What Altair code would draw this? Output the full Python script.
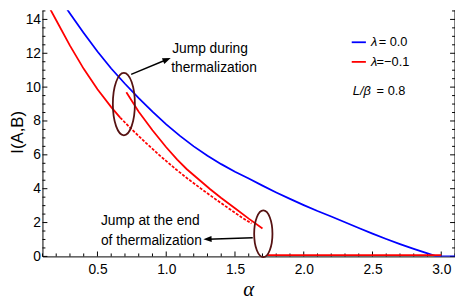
import altair as alt
import pandas as pd
import numpy as np

# ---------------- data ----------------
blue_alpha = [0.22, 0.3, 0.4, 0.5, 0.6, 0.7, 0.8, 0.9, 1.0, 1.1, 1.2, 1.3, 1.4, 1.5, 1.6,
              1.7, 1.8, 1.9, 2.0, 2.1, 2.2, 2.3, 2.4, 2.5, 2.6, 2.7, 2.8, 2.9, 2.96, 3.0, 3.1]
blue_I = [15.3, 14.35, 13.2, 12.1, 11.1, 10.2, 9.35, 8.55, 7.8, 7.12, 6.5, 5.95, 5.45, 5.0, 4.6,
          4.18, 3.78, 3.4, 3.03, 2.68, 2.36, 2.02, 1.68, 1.35, 1.03, 0.73, 0.45, 0.18, 0.02, 0.0, 0.0]

red1_alpha = [0.12, 0.2, 0.3, 0.4, 0.5, 0.6, 0.665]
red1_I = [15.15, 13.95, 12.45, 11.08, 9.87, 8.82, 8.2]

red_dash_alpha = [0.665, 0.75, 0.85, 0.95, 1.07, 1.15, 1.25, 1.35, 1.45, 1.55, 1.62]
red_dash_I = [8.2, 7.5, 6.72, 5.98, 5.15, 4.63, 4.02, 3.43, 2.86, 2.3, 1.95]

red2_alpha = [0.71, 0.8, 0.9, 1.0, 1.08, 1.15, 1.22, 1.32, 1.4, 1.5, 1.6, 1.7]
red2_I = [9.7, 8.55, 7.45, 6.45, 5.72, 5.15, 4.66, 3.97, 3.45, 2.85, 2.23, 1.65]

red3_alpha = [1.735, 3.0]
red3_I = [0.07, 0.07]

x_major = [0.5, 1.0, 1.5, 2.0, 2.5, 3.0]
x_minor = [round(v, 1) for v in np.arange(0.1, 3.11, 0.1) if round(v, 1) not in x_major]
y_major = [0, 2, 4, 6, 8, 10, 12, 14]
y_minor = [v for v in np.arange(0.5, 14.51, 0.5) if v not in y_major]

X_DOM = [0.1, 3.1]
Y_DOM = [0, 14.54]
W, H = 419, 250

FONT = "Liberation Sans"
BROWN = "#561212"

xs = alt.Scale(domain=X_DOM, nice=False, zero=False)
ys = alt.Scale(domain=Y_DOM, nice=False, zero=False)

X_AXIS = alt.Axis(values=x_major, format=".1f", ticks=False, tickSize=0, grid=False,
                  labelFont=FONT, labelFontSize=14, labelColor="black", labelPadding=6,
                  domainColor="black", domainWidth=1, title=None)
Y_AXIS = alt.Axis(values=y_major, format="d", ticks=False, tickSize=0, grid=False,
                  labelFont=FONT, labelFontSize=14, labelColor="black", labelPadding=2,
                  domainColor="black", domainWidth=1, title=None)


def X(field):
    return alt.X(field, scale=xs, axis=X_AXIS, title=None)


def Y(field):
    return alt.Y(field, scale=ys, axis=Y_AXIS, title=None)


def line_layer(a, i, color, dash=None):
    df = pd.DataFrame({"a": a, "I": i})
    kw = dict(color=color, strokeWidth=1.8, clip=True)
    if dash:
        kw["strokeDash"] = dash
    return alt.Chart(df).mark_line(**kw).encode(x=X("a:Q"), y=Y("I:Q"), order="a:Q")


# tick marks (inside the frame)
def xtick_layer(vals, length):
    return alt.Chart(pd.DataFrame({"v": vals})).mark_rule(color="black", strokeWidth=1).encode(
        x=X("v:Q"), y=alt.value(H), y2=alt.value(H - length))


def ytick_layer(vals, length, right=False):
    x0 = W if right else 0
    x1 = W - length if right else length
    return alt.Chart(pd.DataFrame({"v": vals})).mark_rule(color="black", strokeWidth=1).encode(
        y=Y("v:Q"), x=alt.value(x0), x2=alt.value(x1))


right_frame = alt.Chart(pd.DataFrame({"v": [0]})).mark_rule(color="black", strokeWidth=1).encode(
    x=alt.value(W), y=alt.value(0), y2=alt.value(H))

# ellipses (annotation shapes)
ell_a = [0.692, 1.706]
ell_I = [9.0, 1.34]
ell_shapes = ["M-0.353,0A0.353,1 0 1,0 0.353,0A0.353,1 0 1,0 -0.353,0Z",
              "M-0.392,0A0.392,1 0 1,0 0.392,0A0.392,1 0 1,0 -0.392,0Z"]
ell_sizes = [4020, 2247]
ellipses = []
for a, i, s, sz in zip(ell_a, ell_I, ell_shapes, ell_sizes):
    ellipses.append(
        alt.Chart(pd.DataFrame({"a": [a], "I": [i]})).mark_point(
            shape=s, size=sz, filled=False, color=BROWN, strokeWidth=1.8, opacity=1
        ).encode(x=X("a:Q"), y=Y("I:Q"))
    )

# arrows
arr_a0 = [0.745, 1.629]
arr_I0 = [10.75, 1.10]
arr_a1 = [1.005, 1.300]
arr_I1 = [11.63, 1.017]
arr_angle = [67.5, 267.6]
arrow_rules = alt.Chart(pd.DataFrame({"a0": arr_a0, "I0": arr_I0, "a1": arr_a1, "I1": arr_I1})).mark_rule(
    color="black", strokeWidth=1.5).encode(x=X("a0:Q"), y=Y("I0:Q"), x2="a1:Q", y2="I1:Q")
arrow_heads = []
for a, i, ang in zip(arr_a1, arr_I1, arr_angle):
    arrow_heads.append(
        alt.Chart(pd.DataFrame({"a": [a], "I": [i]})).mark_point(
            shape="M0,-1L0.75,1L-0.75,1Z", size=70, filled=True, color="black", opacity=1, angle=ang
        ).encode(x=X("a:Q"), y=Y("I:Q"))
    )

# annotation texts
ann_text = ["Jump during", "thermalization", "Jump at the end", "of thermalization"]
ann_a = [1.043, 1.036, 0.525, 0.525]
ann_I = [12.02, 10.89, 1.88, 0.69]
annotations = alt.Chart(pd.DataFrame({"t": ann_text, "a": ann_a, "I": ann_I})).mark_text(
    align="left", baseline="alphabetic", font=FONT, fontSize=14, color="black").encode(
    x=X("a:Q"), y=Y("I:Q"), text="t:N")

# legend
leg_a0 = [2.349, 2.349]
leg_a1 = [2.452, 2.452]
leg_I = [12.65, 11.49]
leg_colors = ["#0000ff", "#ff0000"]
leg_vals = ["= 0.0", "=\u22120.1"]
legend_layers = []
for a0, a1, i, c in zip(leg_a0, leg_a1, leg_I, leg_colors):
    legend_layers.append(
        alt.Chart(pd.DataFrame({"a0": [a0], "a1": [a1], "I": [i]})).mark_rule(
            color=c, strokeWidth=1.8).encode(x=X("a0:Q"), x2="a1:Q", y=Y("I:Q"))
    )
legend_sym = alt.Chart(pd.DataFrame({"t": ["\u03bb", "\u03bb", "L/\u03b2"], "a": [2.489, 2.489, 2.357],
                                     "I": [12.65, 11.49, 9.78]})).mark_text(
    align="left", baseline="middle", font=FONT, fontSize=13, fontStyle="italic", color="black").encode(
    x=X("a:Q"), y=Y("I:Q"), text="t:N")
legend_val = alt.Chart(pd.DataFrame({"t": leg_vals + ["= 0.8"], "a": [2.545, 2.530, 2.530],
                                     "I": [12.65, 11.49, 9.78]})).mark_text(
    align="left", baseline="middle", font=FONT, fontSize=13, color="black").encode(
    x=X("a:Q"), y=Y("I:Q"), text="t:N")

# axis titles
x_title = alt.Chart(pd.DataFrame({"t": ["\u03b1"]})).mark_text(
    font="Liberation Serif", fontSize=21, fontStyle="italic", color="black", baseline="middle",
    align="center").encode(x=alt.value(W / 2), y=alt.value(284), text="t:N")
y_title = alt.Chart(pd.DataFrame({"t": ["I(A,B)"]})).mark_text(
    font=FONT, fontSize=17, color="black", baseline="middle", align="center", angle=270).encode(
    x=alt.value(-25), y=alt.value(124), text="t:N")

layers = [xtick_layer(x_major, 5), xtick_layer(x_minor, 3),
          ytick_layer(y_major, 5), ytick_layer(y_minor, 3),
          ytick_layer(y_major, 5, right=True), ytick_layer(y_minor, 3, right=True),
          right_frame,
          line_layer(blue_alpha, blue_I, "#0000ff"),
          line_layer(red1_alpha, red1_I, "#ff0000"),
          line_layer(red_dash_alpha, red_dash_I, "#ff0000", dash=[3, 1.5]),
          line_layer(red2_alpha, red2_I, "#ff0000"),
          line_layer(red3_alpha, red3_I, "#ff0000"),
          *ellipses, arrow_rules, *arrow_heads, annotations,
          *legend_layers, legend_sym, legend_val, x_title, y_title]

chart = alt.layer(*layers).properties(
    width=W, height=H,
    autosize=alt.AutoSizeParams(type="none"),
    padding={"left": 35, "top": 0, "right": 0, "bottom": 44},
).configure_view(stroke=None)

chart.save("out.html", embed_options={"renderer": "svg", "actions": False})
